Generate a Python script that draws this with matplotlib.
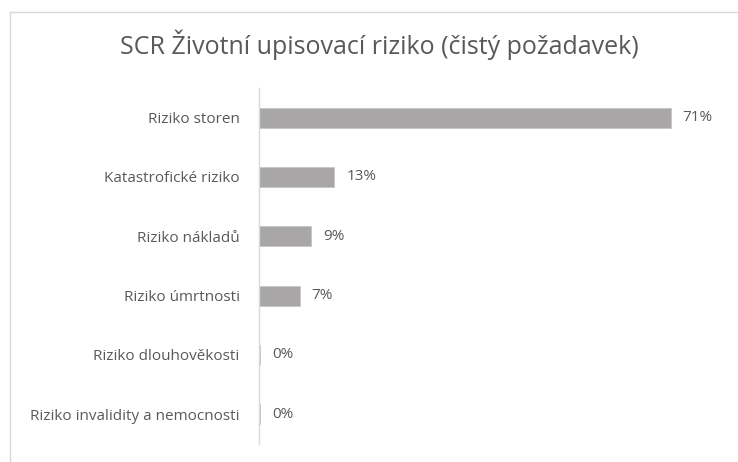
import matplotlib
matplotlib.use("Agg")
import matplotlib.pyplot as plt
from matplotlib.lines import Line2D

categories = ["Riziko storen", "Katastrofické riziko", "Riziko nákladů",
              "Riziko úmrtnosti", "Riziko dlouhověkosti", "Riziko invalidity a nemocnosti"]
values = [71, 13, 9, 7, 0.25, 0.25]
labels = ["71%", "13%", "9%", "7%", "0%", "0%"]
title = "SCR Životní upisovací riziko (čistý požadavek)"

plt.rcParams['font.family'] = ['Open Sans', 'DejaVu Sans']

W, H = 738, 462
fig = plt.figure(figsize=(W / 100, H / 100), dpi=100)
fig.patch.set_facecolor("white")

# chart border (partially visible)
fig.add_artist(Line2D([10 / W, 1.0], [1 - 12 / H, 1 - 12 / H], color="#d9d9d9", lw=1))
fig.add_artist(Line2D([10 / W, 10 / W], [0, 1 - 12 / H], color="#d9d9d9", lw=1))

left, right = 259 / W, 723 / W
top, bottom = 1 - 88 / H, 1 - 444 / H
ax = fig.add_axes([left, bottom, right - left, top - bottom])

y = list(range(len(categories)))
ax.barh(y, values, height=0.34, color="#a8a6a6", edgecolor="#c4c2c2", linewidth=0.5)
ax.set_ylim(len(categories) - 0.5, -0.5)
ax.set_xlim(0, 80)
ax.set_yticks(y)
ax.set_yticklabels(categories, fontsize=11, color="#595959")
ax.tick_params(axis="y", length=0, pad=14)
ax.set_xticks([])
for s in ["top", "right", "bottom"]:
    ax.spines[s].set_visible(False)
ax.spines["left"].set_color("#d9d9d9")
ax.spines["left"].set_linewidth(1)

for yi, v, lab in zip(y, values, labels):
    ax.annotate(lab, (v, yi), xytext=(8.5, 0), textcoords="offset points",
                va="center", ha="left", fontsize=11, color="#595959")

fig.text(379 / W, 1 - 45 / H, title, ha="center", va="center", fontsize=18, color="#595959")

fig.savefig("out.png", dpi=100)
